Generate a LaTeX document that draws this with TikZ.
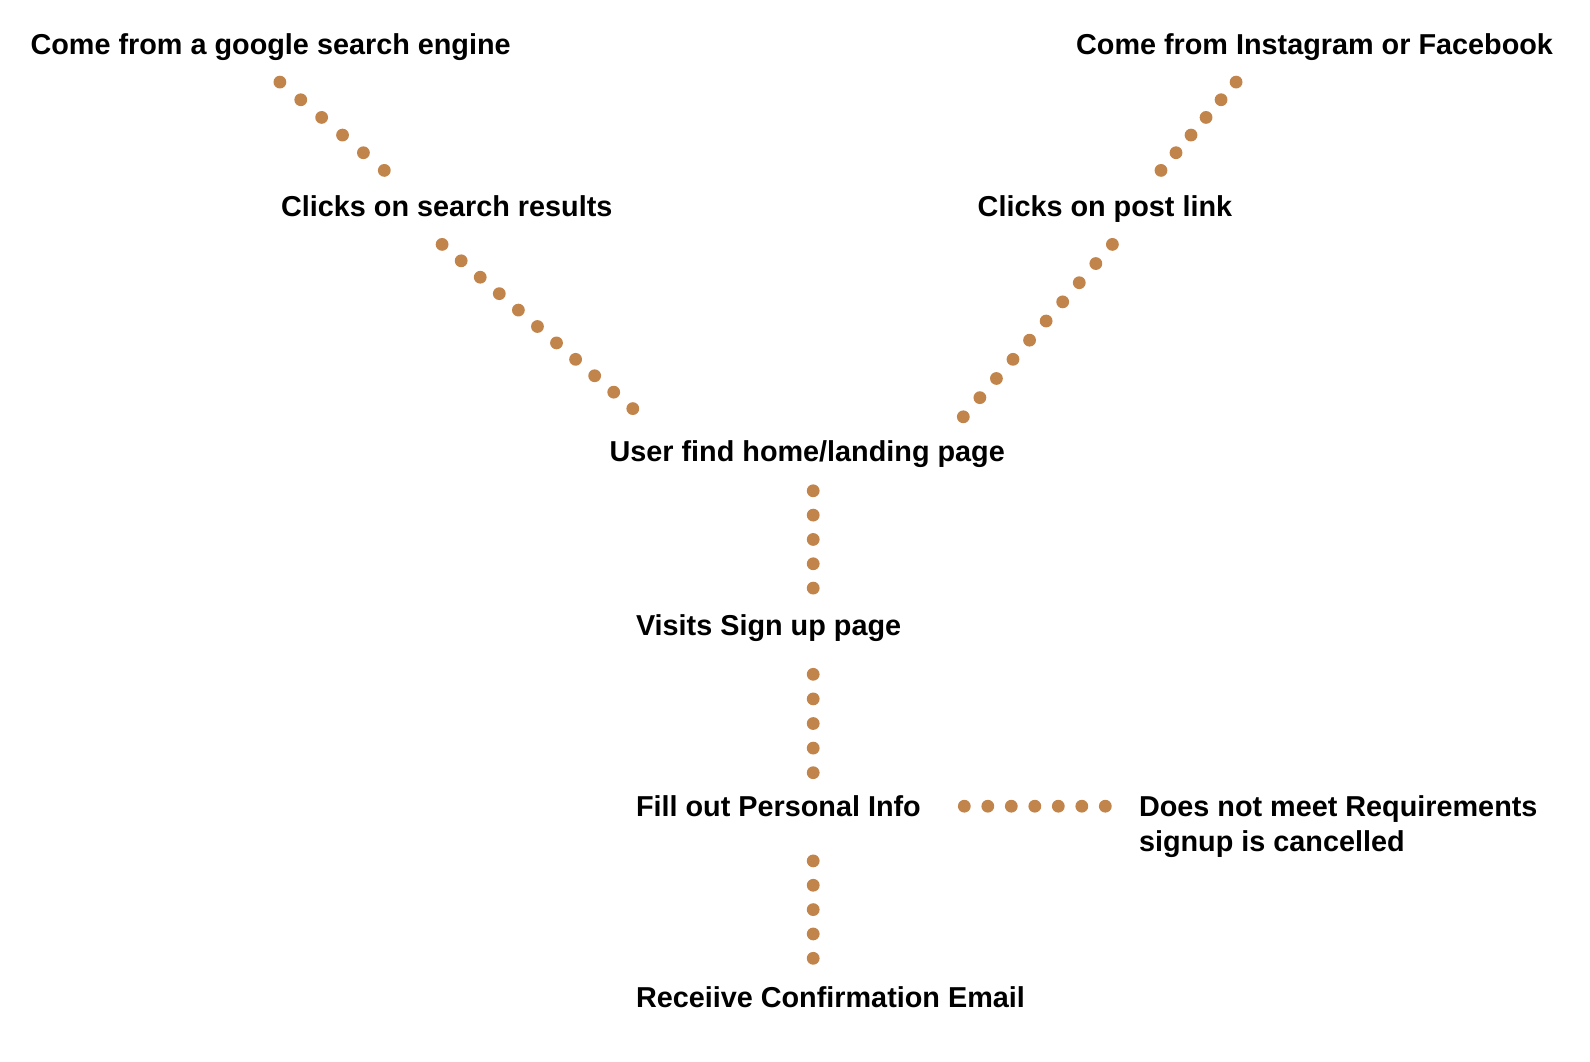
\documentclass[tikz,border=0pt]{standalone}
\usepackage{fontspec}
\setmainfont{Liberation Sans}
\usetikzlibrary{calc}
\definecolor{dotc}{RGB}{193,132,75}
\begin{document}
\begin{tikzpicture}[x=1pt,y=-1pt,
  lbl/.style={font=\bfseries\fontsize{28.8}{34.5}\selectfont, anchor=base west, inner sep=0pt, align=left}]
\useasboundingbox[fill=white] (0,0) rectangle (1590,1062);
\node[lbl] (google) at (30.4,55) {Come from a google search engine};
\node[lbl] (insta) at (1075.9,55) {Come from Instagram or Facebook};
\node[lbl] (search) at (280.9,216) {Clicks on search results};
\node[lbl] (post) at (977.5,216) {Clicks on post link};
\node[lbl] (home) at (609.4,461) {User find home/landing page};
\node[lbl] (visit) at (635.8,635) {Visits Sign up page};
\node[lbl] (fill) at (635.8,816) {Fill out Personal Info};
\node[lbl] (cancel) at (1138.8,851) {Does not meet Requirements\\signup is cancelled};
\node[lbl] (email) at (635.8,1007) {Receiive Confirmation Email};
% dotted connector end points
\coordinate (a1) at (279.9,82.1);  \coordinate (a2) at (384.3,170.4);
\coordinate (b1) at (1236.1,82.1); \coordinate (b2) at (1161,170.4);
\coordinate (c1) at (442.1,244.4); \coordinate (c2) at (632.8,408.6);
\coordinate (d1) at (1112.4,244.4); \coordinate (d2) at (963.3,416.8);
\coordinate (e1) at (813.2,490.8); \coordinate (e2) at (813.2,588.1);
\coordinate (f1) at (813.2,674.3); \coordinate (f2) at (813.2,772.7);
\coordinate (g1) at (964.3,806.2); \coordinate (g2) at (1105.3,806.2);
\coordinate (h1) at (813.2,860.9); \coordinate (h2) at (813.2,958.3);
\foreach \p/\q/\n in {a1/a2/6, b1/b2/6, c1/c2/11, d1/d2/10, e1/e2/5, f1/f2/5, g1/g2/7, h1/h2/5}{
  \pgfmathtruncatemacro{\m}{\n-1}
  \foreach \t in {0,...,\m}{
    \fill[dotc] ($(\p)!{\t/\m}!(\q)$) circle[radius=6.4];
  }
}
\end{tikzpicture}
\end{document}
